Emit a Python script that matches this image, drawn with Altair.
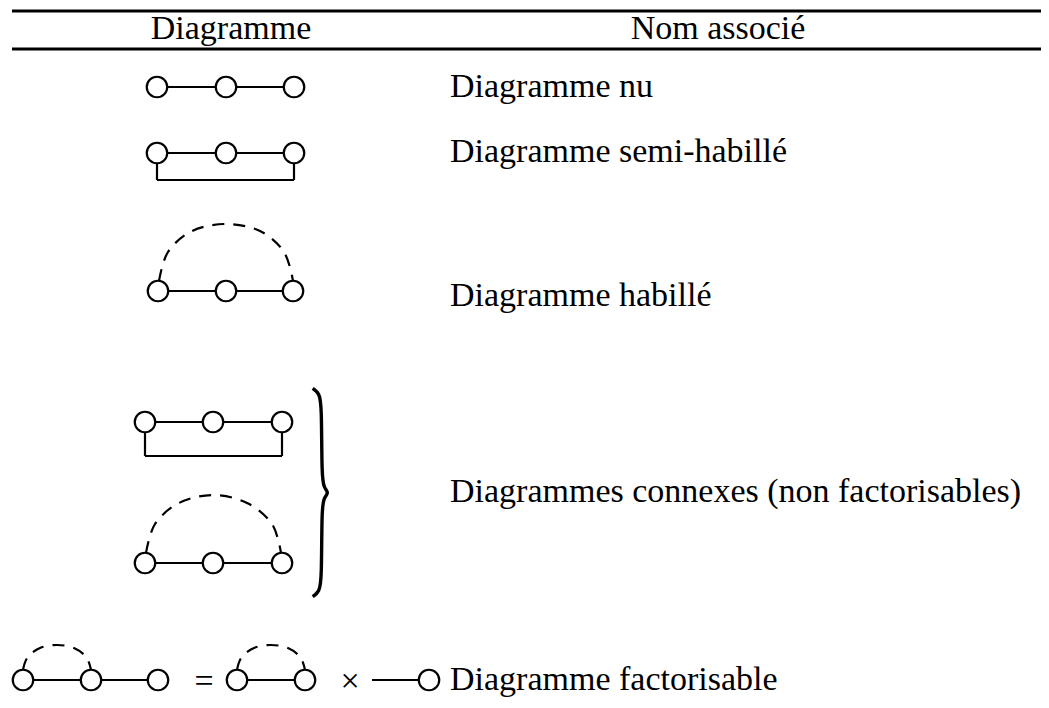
import altair as alt
import pandas as pd

FONT = "Liberation Serif"
FS = 34

# ---- table header ----
header_text = ["Diagramme", "Nom associé"]
header_x = [231, 718]
header_y = [39, 39]

# ---- booktabs rules ----
rule_y = [11, 49]
rule_x0 = [12, 12]
rule_x1 = [1049, 1049]

# ---- vertices (circles) ----
node_x = [157, 226, 294,
          157, 226, 294,
          158, 226, 293,
          145, 213, 282,
          145, 213, 282,
          23, 91, 158, 237, 305, 429]
node_y = [87, 87, 87,
          153, 153, 153,
          291, 291, 291,
          422, 422, 422,
          563, 563, 563,
          680, 680, 680, 680, 680, 680]

# ---- solid edges ----
seg_x0 = [157, 226, 157, 226, 157, 157, 294, 158, 226, 145, 213, 145, 145, 282, 145, 213, 23, 91, 237, 372]
seg_x1 = [226, 294, 226, 294, 157, 294, 294, 226, 293, 213, 282, 145, 282, 282, 213, 282, 91, 158, 305, 429]
seg_y0 = [87, 87, 153, 153, 153, 180, 180, 291, 291, 422, 422, 422, 456, 456, 563, 563, 680, 680, 680, 680]
seg_y1 = [87, 87, 153, 153, 180, 180, 153, 291, 291, 422, 422, 456, 456, 422, 563, 563, 680, 680, 680, 680]

# ---- dashed arcs (points read along each arc) ----
arc_id = (["a"] * 7 + ["b"] * 7 + ["c"] * 7 + ["d"] * 7)
arc_x = [159, 168, 192, 226, 260, 284, 293,
         146, 155, 179, 213, 247, 272, 281,
         23, 27.5, 40, 57, 74, 86.5, 91,
         237, 241.5, 254, 271, 288, 300.5, 305]
arc_y = [281, 252, 231, 224, 231, 252, 281,
         553, 524, 503, 495, 503, 524, 553,
         670, 657.5, 648, 645, 648, 657.5, 670,
         670, 657.5, 648, 645, 648, 657.5, 670]

# ---- curly brace ----
brace_x = [312.7, 319.3, 321.7, 321.7, 324, 329, 324, 321.7, 321.7, 319.3, 312.7]
brace_y = [388.3, 393.3, 405, 476.7, 488, 492.7, 497.5, 508, 580, 591.7, 596.7]

# ---- names ----
label_text = ["Diagramme nu", "Diagramme semi-habillé", "Diagramme habillé",
              "Diagrammes connexes (non factorisables)", "Diagramme factorisable"]
label_x = [450, 450, 450, 450, 450]
label_y = [97, 162, 306, 502, 690]

# ---- operators ----
op_text = ["=", "×"]
op_x = [204, 350]
op_y = [692, 692]

W, H = 1033, 692
xs = alt.Scale(domain=[8, 8 + W], zero=False, nice=False)
ys = alt.Scale(domain=[8, 8 + H], zero=False, nice=False, reverse=True)


def X(f):
    return alt.X(f, type="quantitative", scale=xs, axis=None)


def Y(f):
    return alt.Y(f, type="quantitative", scale=ys, axis=None)


rules = alt.Chart(pd.DataFrame({"x0": rule_x0, "x1": rule_x1, "y": rule_y})).mark_rule(
    color="black", strokeWidth=2.8).encode(x=X("x0"), x2="x1", y=Y("y"))

segs = alt.Chart(pd.DataFrame({"x0": seg_x0, "x1": seg_x1, "y0": seg_y0, "y1": seg_y1})).mark_rule(
    color="black", strokeWidth=2.2).encode(x=X("x0"), x2="x1", y=Y("y0"), y2="y1")

arc_df = pd.DataFrame({"id": arc_id, "x": arc_x, "y": arc_y, "i": list(range(len(arc_x)))})
arcs = alt.Chart(arc_df).mark_line(
    color="black", strokeWidth=2.2, strokeDash=[12, 9], interpolate="cardinal").encode(
    x=X("x"), y=Y("y"), detail="id:N", order="i:Q")

brace_df = pd.DataFrame({"x": brace_x, "y": brace_y, "i": list(range(len(brace_x)))})
brace = alt.Chart(brace_df).mark_line(
    color="black", strokeWidth=3.4, interpolate="basis").encode(
    x=X("x"), y=Y("y"), order="i:Q")

nodes = alt.Chart(pd.DataFrame({"x": node_x, "y": node_y})).mark_point(
    shape="circle", size=420, filled=True, fill="white", stroke="black",
    strokeWidth=2.2, opacity=1, fillOpacity=1, strokeOpacity=1).encode(x=X("x"), y=Y("y"))

labels = alt.Chart(pd.DataFrame({"t": label_text, "x": label_x, "y": label_y})).mark_text(
    align="left", baseline="alphabetic", font=FONT, fontSize=FS, color="black").encode(
    x=X("x"), y=Y("y"), text="t:N")

headers = alt.Chart(pd.DataFrame({"t": header_text, "x": header_x, "y": header_y})).mark_text(
    align="center", baseline="alphabetic", font=FONT, fontSize=FS, color="black").encode(
    x=X("x"), y=Y("y"), text="t:N")

ops = alt.Chart(pd.DataFrame({"t": op_text, "x": op_x, "y": op_y})).mark_text(
    align="center", baseline="alphabetic", font=FONT, fontSize=FS, color="black").encode(
    x=X("x"), y=Y("y"), text="t:N")

chart = alt.layer(rules, segs, arcs, brace, nodes, labels, headers, ops).properties(
    width=W, height=H, padding=0, autosize=alt.AutoSizeParams(type="none")
).configure_view(strokeOpacity=0, strokeWidth=0, fill="white").configure_axis(
    domain=False, ticks=False, labels=False, grid=False
)

chart.save("out.html", embed_options={"renderer": "svg", "actions": False})
